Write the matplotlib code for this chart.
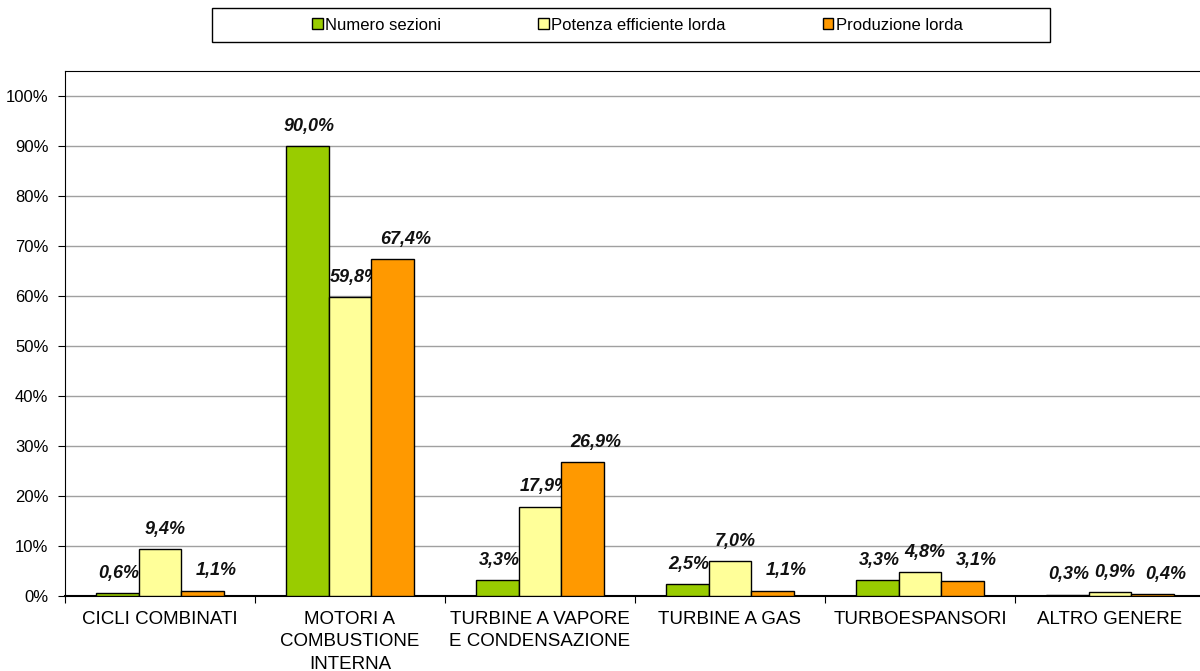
import matplotlib.pyplot as plt
import numpy as np
from matplotlib.patches import Rectangle
from matplotlib.transforms import offset_copy

plt.rcParams['font.family'] = ['Liberation Sans', 'DejaVu Sans']

categories = ["CICLI COMBINATI", "MOTORI A\nCOMBUSTIONE\nINTERNA",
              "TURBINE A VAPORE\nE CONDENSAZIONE", "TURBINE A GAS",
              "TURBOESPANSORI", "ALTRO GENERE"]
series_names = ["Numero sezioni", "Potenza efficiente lorda", "Produzione lorda"]
numero_sezioni = [0.6, 90.0, 3.3, 2.5, 3.3, 0.3]
potenza = [9.4, 59.8, 17.9, 7.0, 4.8, 0.9]
produzione = [1.1, 67.4, 26.9, 1.1, 3.1, 0.4]
series = [numero_sezioni, potenza, produzione]
colors = ["#99CC00", "#FFFF99", "#FF9900"]
label_dx = [2, 5, 13]  # px shift of value labels, like in the original

fig = plt.figure(figsize=(12, 6.71), dpi=100)
ax = fig.add_axes([65/1200, 1-596/671, 1140/1200, 525/671])

x = np.arange(len(categories))
w = 0.226
handles = []
for i, (vals, col) in enumerate(zip(series, colors)):
    pos = x + (i - 1) * w
    b = ax.bar(pos, vals, width=w, color=col, edgecolor="black", linewidth=1, zorder=3)
    handles.append(b)
    tr = offset_copy(ax.transData, fig=fig, x=label_dx[i], y=11, units='dots')
    for p, v in zip(pos, vals):
        ax.text(p, v, "{:.1f}%".format(v).replace(".", ","), transform=tr,
                ha="center", va="bottom", fontsize=13, fontweight="bold",
                fontstyle="italic", color="#111111")

ax.set_xlim(-0.5, len(categories) - 0.5)
ax.set_ylim(0, 105)
yt = np.arange(0, 101, 10)
ax.set_yticks(yt)
ax.set_yticklabels(["{}%".format(v) for v in yt], fontsize=12)
ax.yaxis.grid(True, color="#A0A0A0", linewidth=1, zorder=0)
ax.set_axisbelow(True)

ax.set_xticks(np.arange(-0.5, len(categories), 1))
ax.set_xticklabels([])
ax.set_xticks(x, minor=True)
ax.set_xticklabels(categories, minor=True, fontsize=13.5, linespacing=1.4)
ax.tick_params(axis="x", which="minor", length=0, pad=11)
ax.tick_params(axis="x", which="major", length=5, direction="out")
ax.tick_params(axis="y", length=5, direction="out", pad=7)

for s in ["left", "top", "bottom", "right"]:
    ax.spines[s].set_color("black")
ax.spines["bottom"].set_linewidth(1.5)

# legend box
fig.patches.append(Rectangle((212/1200, 1-42/671), 838/1200, 34/671,
                             transform=fig.transFigure, facecolor="white",
                             edgecolor="black", linewidth=1))
fig.legend(handles, series_names, loc="center left", bbox_to_anchor=(312/1200, 1-25/671),
           ncol=3, frameon=False, fontsize=12, handlelength=0.65, handleheight=0.65,
           handletextpad=0.15, columnspacing=5.8, borderaxespad=0, borderpad=0)

fig.savefig("out.png", dpi=100)
